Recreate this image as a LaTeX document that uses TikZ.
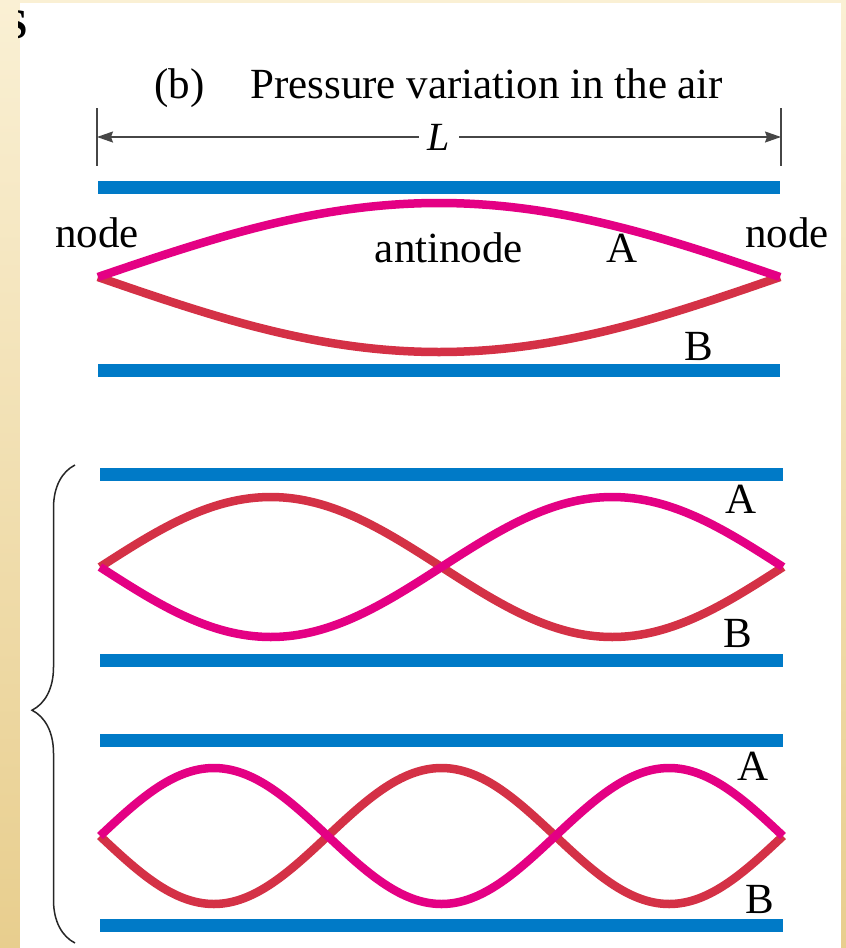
\documentclass[tikz,border=0pt]{standalone}
\usepackage{fontspec}
\setmainfont{Liberation Serif}
\usetikzlibrary{arrows.meta,decorations.pathreplacing}
\definecolor{tubeblue}{RGB}{0,122,199}
\definecolor{pinkA}{RGB}{228,0,132}
\definecolor{redB}{RGB}{212,49,70}
\definecolor{dimgray}{RGB}{70,70,70}
\definecolor{beigeL}{RGB}{250,240,212}
\definecolor{beigeD}{RGB}{232,206,142}
\begin{document}
\begin{tikzpicture}[x=1pt, y=-1pt,
    tube/.style={draw=tubeblue, line width=13pt},
    waveA/.style={draw=pinkA, line width=8.5pt},
    waveB/.style={draw=redB, line width=8.5pt},
    lbl/.style={font=\fontsize{43}{50}\selectfont, inner sep=0pt, anchor=base},
    dim/.style={draw=dimgray, line width=1.5pt},
  ]
    \useasboundingbox (0,0) rectangle (846,948);
    \shade[top color=beigeL, bottom color=beigeD] (0,0) rectangle (846,948);
    \fill[white] (20,3) rectangle (841,948);
    \begin{scope}
      \clip (18,0) rectangle (60,50);
      \node[font=\bfseries\fontsize{42}{48}\selectfont, inner sep=0pt, anchor=base east] (sec) at (28,38) {S};
    \end{scope}

    % title and length
    \node[lbl, anchor=base west] (title) at (154,98) {(b)\hspace{46pt}Pressure variation in the air};
    \coordinate (lt) at (97,137);
    \coordinate (rt) at (781,137);
    \draw[dim] (97,108) -- (97,166);
    \draw[dim] (781,108) -- (781,166);
    \draw[dim, {Stealth[length=16pt, width=11pt, inset=2pt]}-{Stealth[length=16pt, width=11pt, inset=2pt]}]
      (lt) -- node[fill=white, inner xsep=9pt, inner ysep=2pt, font=\itshape\fontsize{40}{44}\selectfont] (len) {L} (rt);

    % fundamental
    \draw[tube] (98,187) -- (780,187);
    \draw[tube] (98,370) -- (780,370);
    \coordinate (n1l) at (98,277);
    \coordinate (n1r) at (780,277);
    \draw[waveB] (n1l) sin (439,352) cos (n1r);
    \draw[waveA] (n1l) sin (439,203) cos (n1r);
    \node[lbl, anchor=base west] (nodeL) at (55,247) {node};
    \node[lbl, anchor=base east] (nodeR) at (829,247) {node};
    \node[lbl] (anti) at (449,262) {antinode};
    \node[lbl] (a1) at (622,262) {A};
    \node[lbl] (b1) at (699,360) {B};

    % second harmonic
    \draw[tube] (100,474) -- (783,474);
    \draw[tube] (100,660) -- (783,660);
    \coordinate (n2l) at (100,567);
    \coordinate (n2m) at (441.5,567);
    \coordinate (n2r) at (783,567);
    \draw[waveB] (n2l) sin (270.75,497) cos (n2m) sin (612.25,637) cos (n2r);
    \draw[waveA] (n2l) sin (270.75,637) cos (n2m) sin (612.25,497) cos (n2r);
    \node[lbl] (a2) at (741,513) {A};
    \node[lbl] (b2) at (738,647) {B};

    % third harmonic
    \draw[tube] (100,740) -- (783,740);
    \draw[tube] (100,925) -- (783,925);
    \coordinate (n3a) at (100,836);
    \coordinate (n3b) at (327.67,836);
    \coordinate (n3c) at (555.33,836);
    \coordinate (n3d) at (783,836);
    \draw[waveB] (n3a) sin (213.83,904) cos (n3b) sin (441.5,768) cos (n3c) sin (669.17,904) cos (n3d);
    \draw[waveA] (n3a) sin (213.83,768) cos (n3b) sin (441.5,904) cos (n3c) sin (669.17,768) cos (n3d);
    \node[lbl] (a3) at (753,780) {A};
    \node[lbl] (b3) at (760,913) {B};

    % brace
    \coordinate (bt) at (75,465);
    \coordinate (bb) at (75,943);
    \draw[decorate, decoration={brace, amplitude=43pt, aspect=0.487}, line width=1.5pt, draw=black!85] (bb) -- (bt);
\end{tikzpicture}
\end{document}
